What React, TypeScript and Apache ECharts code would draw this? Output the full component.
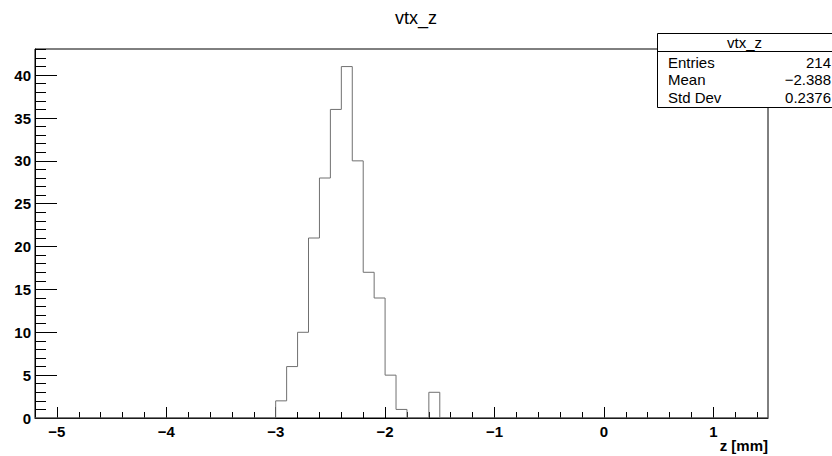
import React, { useEffect, useRef } from "react";
import * as echarts from "echarts";

const binLowEdges = [-3.0, -2.9, -2.8, -2.7, -2.6, -2.5, -2.4, -2.3, -2.2, -2.1, -2.0, -1.9, -1.8, -1.7, -1.6];
const binCounts = [2, 6, 10, 21, 28, 36, 41, 30, 17, 14, 5, 1, 0, 0, 3];
const binWidth = 0.1;
const xRange = [-5.2, 1.5];
const yRange = [0, 43.05];
const xMajorTicks = [-5, -4, -3, -2, -1, 0, 1];
const xMinorTicks = [-5.2, -4.8, -4.6, -4.4, -4.2, -3.8, -3.6, -3.4, -3.2, -2.8, -2.6, -2.4, -2.2, -1.8, -1.6, -1.4, -1.2, -0.8, -0.6, -0.4, -0.2, 0.2, 0.4, 0.6, 0.8, 1.2, 1.4];
const yMajorTicks = [0, 5, 10, 15, 20, 25, 30, 35, 40];
const yMinorTicks = [1, 2, 3, 4, 6, 7, 8, 9, 11, 12, 13, 14, 16, 17, 18, 19, 21, 22, 23, 24, 26, 27, 28, 29, 31, 32, 33, 34, 36, 37, 38, 39, 41, 42, 43];
const statsLabels = ["Entries", "Mean", "Std Dev"];
const statsValues = ["214", "\u22122.388", "0.2376"];
const titleText = "vtx_z";
const xTitle = "z [mm]";

const FONT = "'Liberation Sans', Arial, Helvetica, sans-serif";

export default function App() {
  const ref = useRef<HTMLDivElement>(null);
  useEffect(() => {
    if (!ref.current) return;
    const chart = echarts.init(ref.current, undefined, { renderer: "svg" });

    const lastEdge = binLowEdges[binLowEdges.length - 1] + binWidth;
    const pts: number[][] = [[xRange[0], 0]];
    binLowEdges.forEach((e, i) => {
      const prev = i === 0 ? 0 : binCounts[i - 1];
      pts.push([e, prev]);
      pts.push([e, binCounts[i]]);
    });
    pts.push([lastEdge, binCounts[binCounts.length - 1]]);
    pts.push([lastEdge, 0]);
    pts.push([xRange[1], 0]);

    const fmt = (v: number) => (v < 0 ? "\u2212" + Math.abs(v) : String(v));

    const option: any = {
      animation: false,
      backgroundColor: "#fff",
      title: {
        text: titleText,
        left: "center",
        top: 4,
        textStyle: { fontFamily: FONT, fontSize: 18, fontWeight: "normal", color: "#000" },
      },
      grid: {
        left: 35,
        right: 64,
        top: 49,
        bottom: 38,
        show: true,
        borderColor: "#000",
        borderWidth: 1,
        backgroundColor: "transparent",
      },
      xAxis: [
        {
          type: "value",
          min: xRange[0],
          max: xRange[1],
          position: "bottom",
          axisLine: { show: true, onZero: false, lineStyle: { color: "#000", width: 1 } },
          axisTick: { show: true, inside: true, length: 11, customValues: xMajorTicks, lineStyle: { color: "#000" } },
          axisLabel: {
            show: true,
            customValues: xMajorTicks,
            formatter: fmt,
            margin: 6,
            fontFamily: FONT,
            fontSize: 15,
            fontWeight: "bold",
            color: "#000",
          },
          splitLine: { show: false },
        },
        {
          type: "value",
          min: xRange[0],
          max: xRange[1],
          position: "bottom",
          axisLine: { show: false, onZero: false },
          axisTick: { show: true, inside: true, length: 6, customValues: xMinorTicks, lineStyle: { color: "#000" } },
          axisLabel: { show: false },
          splitLine: { show: false },
        },
      ],
      yAxis: [
        {
          type: "value",
          min: yRange[0],
          max: yRange[1],
          position: "left",
          axisLine: { show: true, onZero: false, lineStyle: { color: "#000", width: 1 } },
          axisTick: { show: true, inside: true, length: 22, customValues: yMajorTicks, lineStyle: { color: "#000" } },
          axisLabel: {
            show: true,
            customValues: yMajorTicks,
            margin: 4,
            fontFamily: FONT,
            fontSize: 15,
            fontWeight: "bold",
            color: "#000",
          },
          splitLine: { show: false },
        },
        {
          type: "value",
          min: yRange[0],
          max: yRange[1],
          position: "left",
          axisLine: { show: false, onZero: false },
          axisTick: { show: true, inside: true, length: 11, customValues: yMinorTicks, lineStyle: { color: "#000" } },
          axisLabel: { show: false },
          splitLine: { show: false },
        },
      ],
      series: [
        {
          type: "line",
          xAxisIndex: 0,
          yAxisIndex: 0,
          data: pts,
          showSymbol: false,
          symbol: "none",
          lineStyle: { color: "#707070", width: 1 },
          silent: true,
          z: 3,
        },
      ],
      graphic: [
        {
          type: "text",
          right: 64,
          top: 438,
          style: { text: xTitle, font: `bold 15px ${FONT}`, fill: "#000", textAlign: "right" },
        },
        {
          type: "group",
          z: 100,
          children: [
            {
              type: "rect",
              shape: { x: 657.5, y: 33.5, width: 180, height: 74 },
              style: { fill: "#fff", stroke: "#000", lineWidth: 1 },
            },
            {
              type: "line",
              shape: { x1: 657.5, y1: 51.5, x2: 832, y2: 51.5 },
              style: { stroke: "#000", lineWidth: 1 },
            },
            {
              type: "text",
              x: 744.5,
              y: 42.5,
              style: { text: titleText, font: `15px ${FONT}`, fill: "#000", align: "center", verticalAlign: "middle" },
            },
            ...statsLabels.map((l, i) => ({
              type: "text",
              x: 668,
              y: 62 + i * 17.5,
              style: { text: l, font: `15px ${FONT}`, fill: "#000", align: "left", verticalAlign: "middle" },
            })),
            ...statsValues.map((v, i) => ({
              type: "text",
              x: 831,
              y: 62 + i * 17.5,
              style: { text: v, font: `15px ${FONT}`, fill: "#000", align: "right", verticalAlign: "middle" },
            })),
          ],
        },
      ],
    };
    chart.setOption(option);
    return () => chart.dispose();
  }, []);
  return <div ref={ref} style={{ width: 832, height: 456, position: "absolute", left: 0, top: 0 }} />;
}
